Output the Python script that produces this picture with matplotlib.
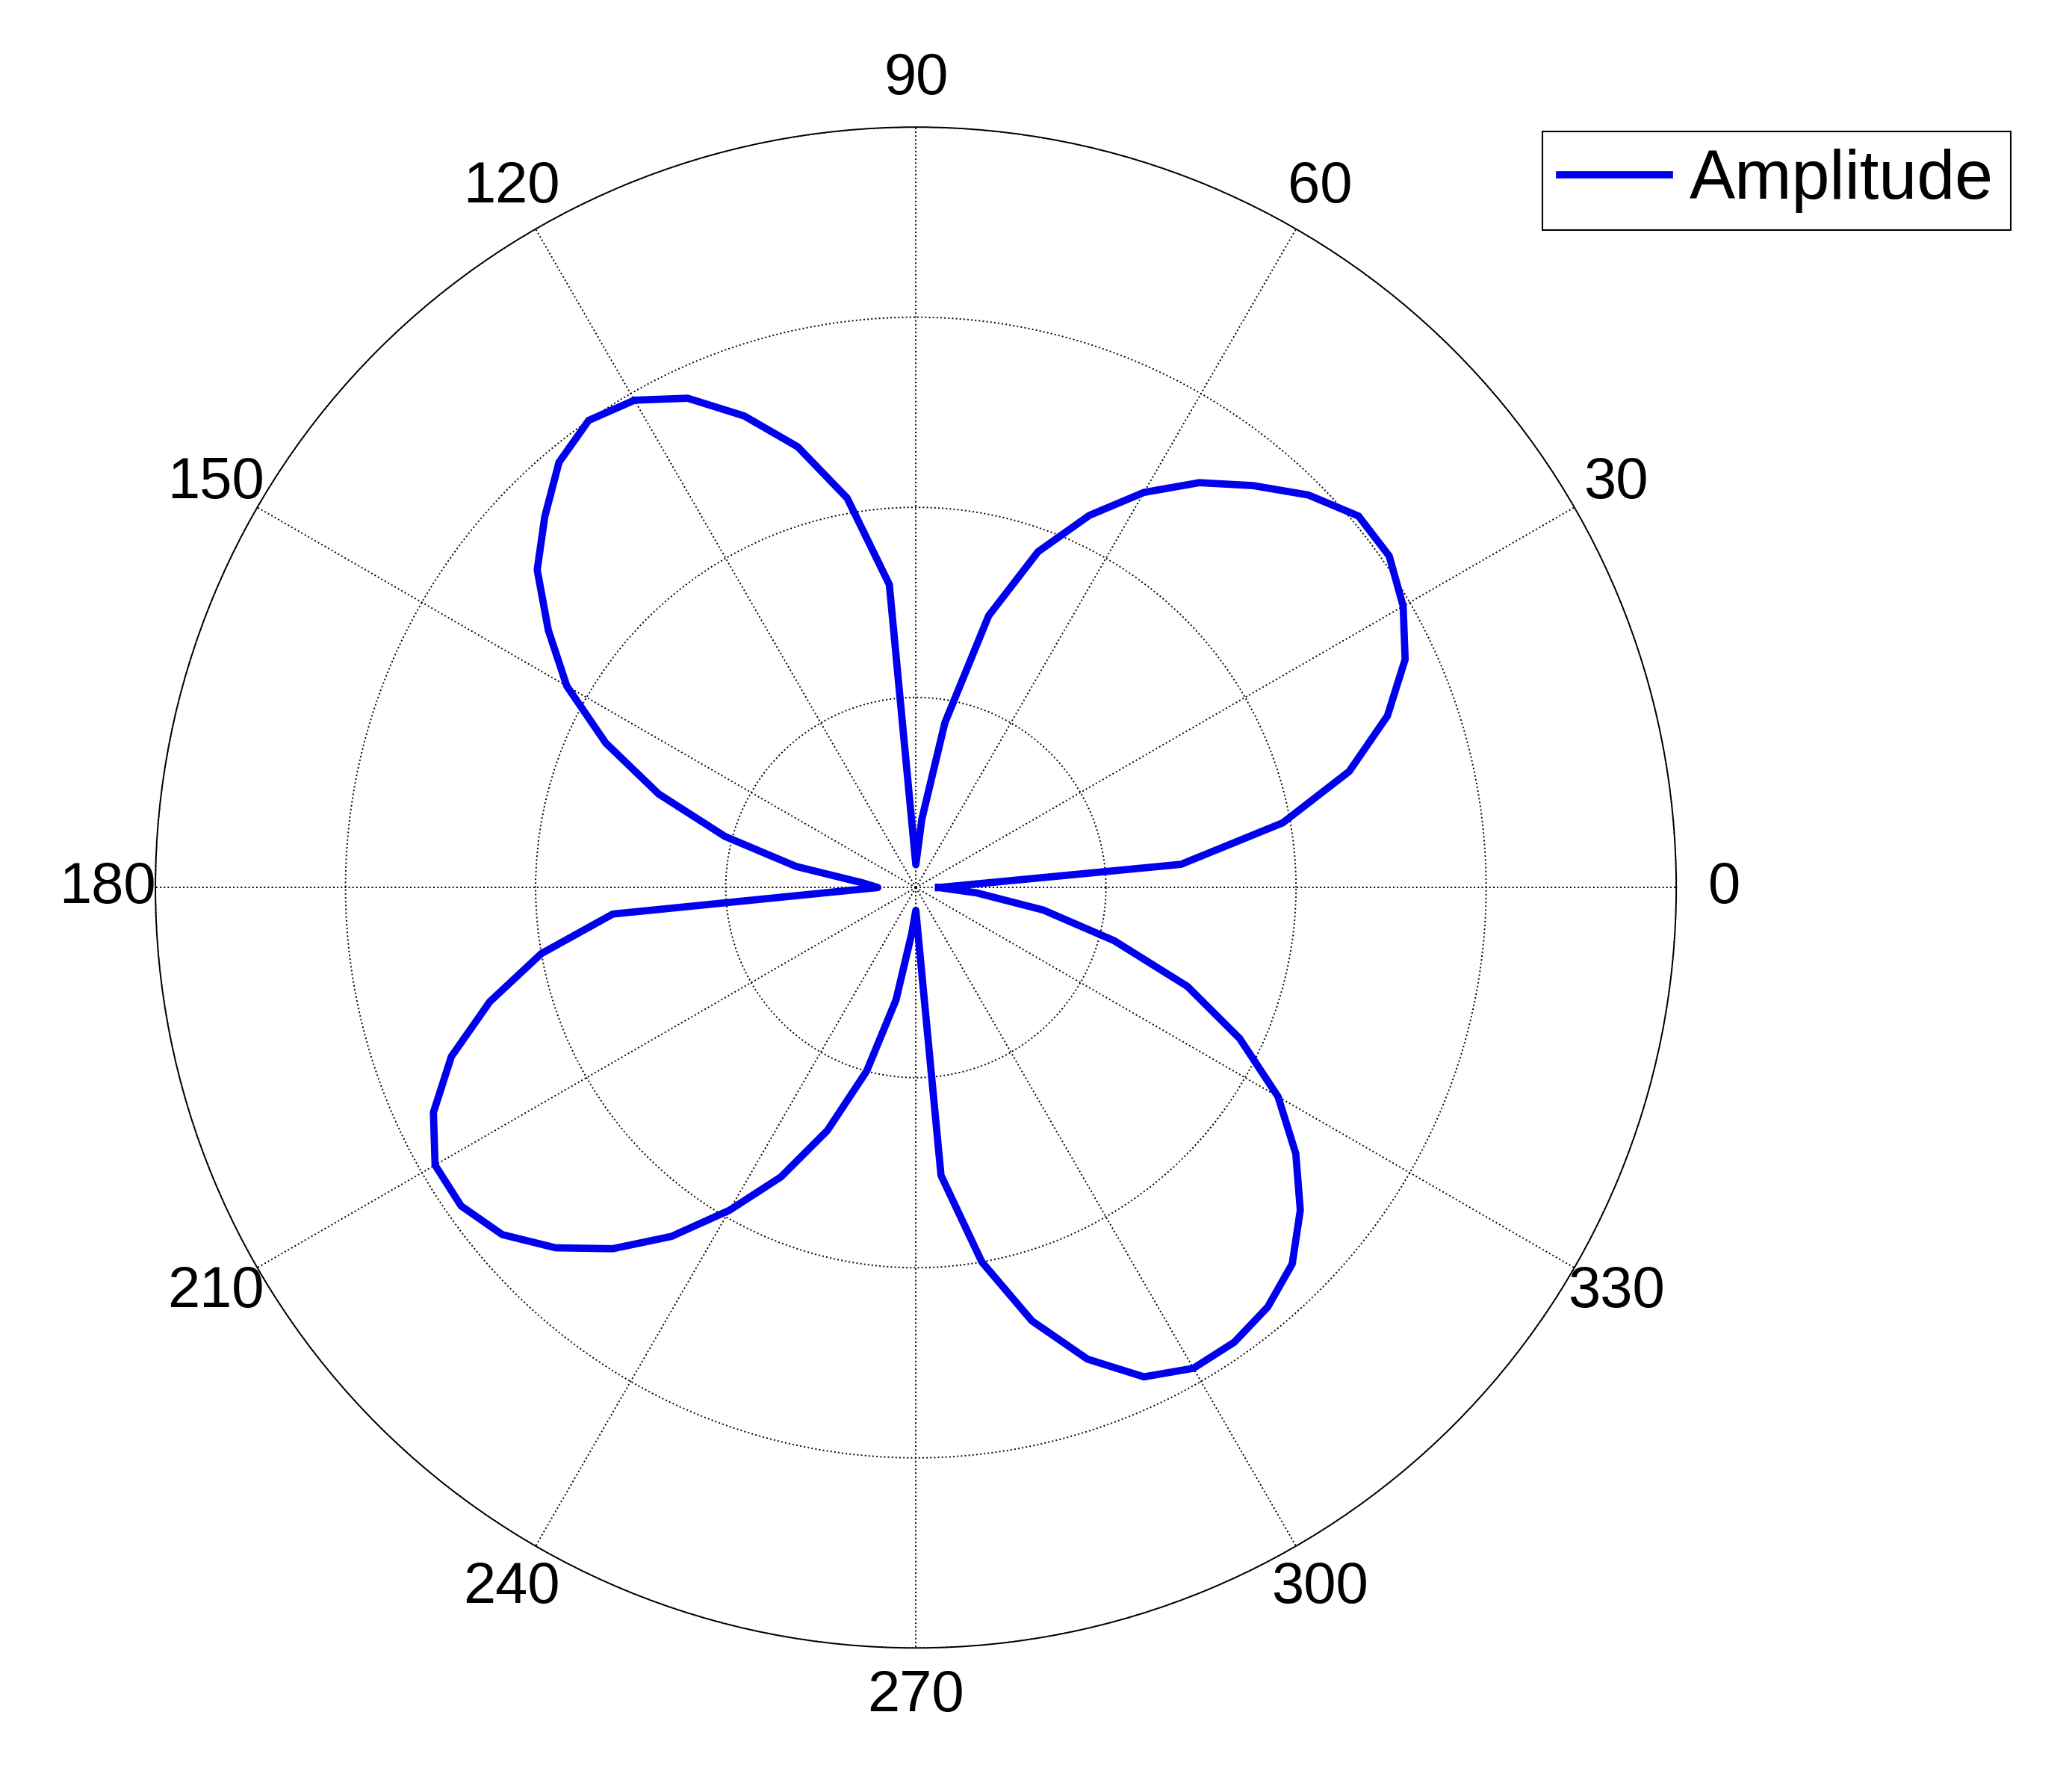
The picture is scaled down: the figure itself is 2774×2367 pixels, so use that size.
import numpy as np
import matplotlib
matplotlib.use("Agg")
from matplotlib import pyplot as plt

plt.rcParams['font.family'] = ['Liberation Sans', 'DejaVu Sans']

# angles in degrees, 5 degree steps, radius (outer ring = 1)
angles_deg = list(range(0, 360, 5)) + [360]
amplitude = [
    # 0 .. 85
    0.03, 0.35, 0.49, 0.59, 0.66, 0.71, 0.74, 0.76, 0.76, 0.73, 0.69, 0.65, 0.60, 0.54, 0.47, 0.37, 0.22, 0.09,
    # 90 .. 175
    0.03, 0.40, 0.52, 0.60, 0.66, 0.71, 0.74, 0.75, 0.73, 0.69, 0.65, 0.59, 0.53, 0.45, 0.36, 0.26, 0.16, 0.07,
    # 180 .. 265
    0.05, 0.40, 0.50, 0.58, 0.65, 0.70, 0.73, 0.73, 0.71, 0.67, 0.62, 0.56, 0.49, 0.42, 0.34, 0.25, 0.15, 0.06,
    # 270 .. 355
    0.03, 0.38, 0.50, 0.59, 0.66, 0.71, 0.73, 0.73, 0.72, 0.70, 0.66, 0.61, 0.55, 0.47, 0.38, 0.27, 0.17, 0.08,
    0.03,
]
angle_ticks = list(range(0, 360, 30))

fig = plt.figure(figsize=(27.74, 23.67), dpi=100)
ax = fig.add_axes([0.075, 0.067, 0.734, 0.862], projection="polar")

th = np.deg2rad(angles_deg)
ax.plot(th, amplitude, color="#0000ee", linewidth=7, label="Amplitude")

ax.set_ylim(0, 1)
ax.set_yticks([0.25, 0.5, 0.75, 1.0])
ax.set_yticklabels([])
ax.set_xticks(np.deg2rad(angle_ticks))
ax.set_xticklabels([str(a) for a in angle_ticks], fontsize=56)
ax.tick_params(axis="x", pad=36)
ax.grid(True, color="black", linestyle=":", linewidth=1.4)
ax.spines["polar"].set_linewidth(1.4)

leg = fig.legend(loc="upper right", bbox_to_anchor=(0.987, 0.945), fontsize=66,
                 fancybox=False, framealpha=1, edgecolor="black", handlelength=1.6,
                 borderpad=0.25, handletextpad=0.3)
leg.get_frame().set_linewidth(1.5)

fig.savefig("out.png", dpi=100)
